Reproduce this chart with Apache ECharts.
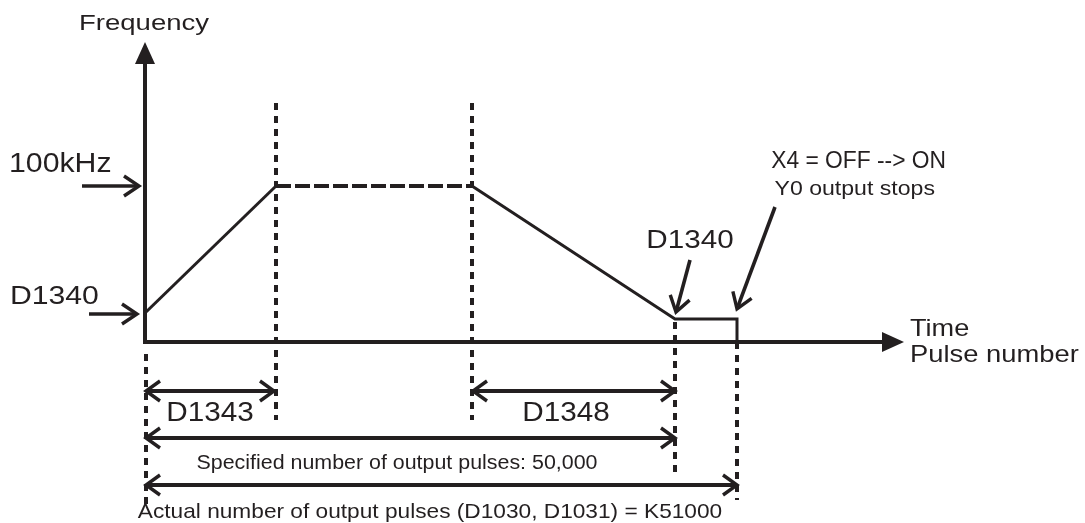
<!DOCTYPE html>
<html><head><meta charset="utf-8">
<script src="https://cdn.jsdelivr.net/npm/echarts@6/dist/echarts.min.js"></script>
<style>html,body{margin:0;padding:0;background:#fff}#c{width:1085px;height:523px}</style>
</head><body><div id="c"></div>
<script>
// ---- diagram data (x: time / pulse position, y: frequency level; origin = axes crossing) ----
const profileX = [0, 131, 327, 530, 592, 592];
const profileY = [29, 156, 156, 23, 23, 0];
const plateauX = [131, 327];
const plateauY = [156, 156];
// axes with filled heads: [x1, y1, x2, y2]
const axisArrows = [[0, 0, 0, 300], [0, 0, 759, 0]];
// pointer arrows with open heads: [x1, y1, x2, y2]
const pointerArrows = [[-63, 156, -6, 156], [-56, 28, -8, 28], [545, 82, 531, 30], [630, 135, 592, 33]];
// double-headed span arrows: [xStart, xEnd, y]
const spanArrows = [[1, 129, -49], [328, 530, -49], [1, 530, -96], [1, 592, -143]];
// dotted guide lines
const guideX = [1, 131, 327, 530, 592];
const guideTop = [-12, 239, 239, 20, 0];
const guideBottom = [-163, -78, -78, -133, -158];
// text labels
const labelText = ['Frequency', '100kHz', 'D1340', 'X4 = OFF --> ON', 'Y0 output stops', 'D1340',
  'Time', 'Pulse number', 'D1343', 'D1348',
  'Specified number of output pulses: 50,000',
  'Actual number of output pulses (D1030, D1031) = K51000'];
const labelX = [-1, -136, -135, 801, 790, 545, 765, 765, 65, 421, 252, 285];
const labelY = [318, 177, 45, 181, 153, 101, 13, -13, -72, -72, -121, -170];

// ---- styles ----
const INK = '#231f20';
const FONT = '"Liberation Sans", Arial, sans-serif';
const labelStyle = [
  {fs: 22, sx: 1.25, align: 'center'},
  {fs: 27, sx: 1.12, align: 'left'},
  {fs: 26, sx: 1.16, align: 'left'},
  {fs: 24, sx: 0.95, align: 'right'},
  {fs: 21, sx: 1.1, align: 'right'},
  {fs: 26, sx: 1.14, align: 'center'},
  {fs: 24, sx: 1.13, align: 'left'},
  {fs: 24, sx: 1.14, align: 'left'},
  {fs: 27, sx: 1.1, align: 'center'},
  {fs: 27, sx: 1.1, align: 'center'},
  {fs: 20, sx: 1.07, align: 'center'},
  {fs: 21, sx: 1.08, align: 'center'}
];

function head(tip, from, len, half) {
  const dx = tip[0] - from[0], dy = tip[1] - from[1];
  const L = Math.hypot(dx, dy), ux = dx / L, uy = dy / L;
  const bx = tip[0] - ux * len, by = tip[1] - uy * len;
  return {pts: [[bx - uy * half, by + ux * half], tip, [bx + uy * half, by - ux * half]], base: [bx, by]};
}

const chart = echarts.init(document.getElementById('c'), null, {renderer: 'canvas'});
chart.setOption({
  animation: false,
  backgroundColor: '#fff',
  grid: {left: 0, right: 0, top: 0, bottom: 0},
  xAxis: {type: 'value', min: -145, max: 940, show: false},
  yAxis: {type: 'value', min: -181, max: 342, show: false},
  series: [
    { // acceleration / deceleration profile
      type: 'line', symbol: 'none', silent: true,
      data: [[profileX[0], profileY[0]], [profileX[1], profileY[1]]],
      lineStyle: {color: INK, width: 3}
    },
    {
      type: 'line', symbol: 'none', silent: true,
      data: profileX.slice(2).map((x, i) => [x, profileY[i + 2]]),
      lineStyle: {color: INK, width: 3, join: 'miter'}
    },
    { // plateau (dashed)
      type: 'line', symbol: 'none', silent: true,
      data: plateauX.map((x, i) => [x, plateauY[i]]),
      lineStyle: {color: INK, width: 4, type: [15, 4]}
    },
    { // dotted guides
      type: 'custom', silent: true,
      data: guideX.map((x, i) => [x, guideTop[i], guideBottom[i]]),
      renderItem: (p, api) => {
        const a = api.coord([api.value(0), api.value(1)]);
        const b = api.coord([api.value(0), api.value(2)]);
        const x = Math.round(a[0]);
        return {type: 'line', shape: {x1: x, y1: a[1], x2: x, y2: b[1]},
          style: {stroke: INK, lineWidth: 4, lineDash: [7, 6]}};
      }
    },
    { // axes
      type: 'custom', silent: true,
      data: axisArrows,
      renderItem: (p, api) => {
        const a = api.coord([api.value(0), api.value(1)]);
        const b = api.coord([api.value(2), api.value(3)]);
        const h = head(b, a, 22, 10);
        return {type: 'group', children: [
          {type: 'line', shape: {x1: a[0], y1: a[1] + (a[1] === b[1] ? 0 : 2), x2: h.base[0], y2: h.base[1]},
            style: {stroke: INK, lineWidth: 4}},
          {type: 'polygon', shape: {points: h.pts}, style: {fill: INK}}
        ]};
      }
    },
    { // pointer arrows
      type: 'custom', silent: true,
      data: pointerArrows,
      renderItem: (p, api) => {
        const a = api.coord([api.value(0), api.value(1)]);
        const b = api.coord([api.value(2), api.value(3)]);
        const h = head(b, a, 15, 10);
        return {type: 'group', children: [
          {type: 'line', shape: {x1: a[0], y1: a[1], x2: b[0] - (b[0] - a[0]) * 0.03, y2: b[1] - (b[1] - a[1]) * 0.03},
            style: {stroke: INK, lineWidth: 3.6}},
          {type: 'polyline', shape: {points: h.pts}, style: {stroke: INK, lineWidth: 3.4, fill: null, lineJoin: 'miter'}}
        ]};
      }
    },
    { // span arrows
      type: 'custom', silent: true,
      data: spanArrows,
      renderItem: (p, api) => {
        const a = api.coord([api.value(0), api.value(2)]);
        const b = api.coord([api.value(1), api.value(2)]);
        const h1 = head(b, a, 14, 10), h2 = head(a, b, 14, 10);
        return {type: 'group', children: [
          {type: 'line', shape: {x1: a[0] + 1, y1: a[1], x2: b[0] - 1, y2: b[1]}, style: {stroke: INK, lineWidth: 4}},
          {type: 'polyline', shape: {points: h1.pts}, style: {stroke: INK, lineWidth: 3.4, fill: null, lineJoin: 'miter'}},
          {type: 'polyline', shape: {points: h2.pts}, style: {stroke: INK, lineWidth: 3.4, fill: null, lineJoin: 'miter'}}
        ]};
      }
    },
    { // labels
      type: 'custom', silent: true,
      data: labelText.map((t, i) => [labelX[i], labelY[i]]),
      renderItem: (p, api) => {
        const i = p.dataIndex, s = labelStyle[i];
        const c = api.coord([api.value(0), api.value(1)]);
        return {type: 'text', x: c[0], y: c[1], scaleX: s.sx,
          style: {text: labelText[i], fill: INK, font: s.fs + 'px ' + FONT,
            align: s.align, verticalAlign: 'middle'}};
      }
    }
  ]
});
</script></body></html>
